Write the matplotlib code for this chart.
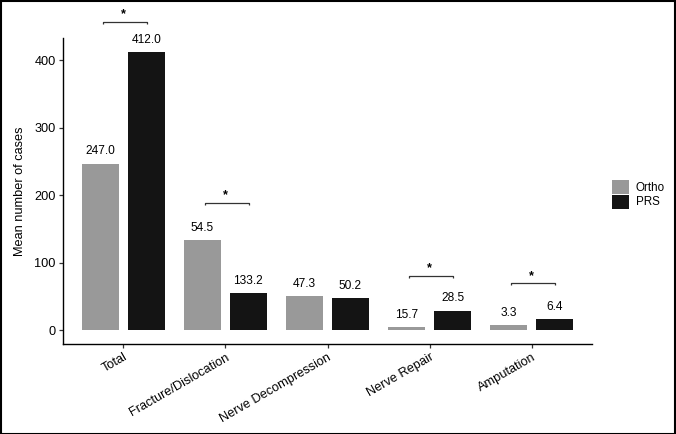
import matplotlib
matplotlib.use("Agg")
import matplotlib.pyplot as plt
import numpy as np
from matplotlib.patches import Rectangle

plt.rcParams['font.family'] = ['Liberation Sans', 'DejaVu Sans']

categories = ["Total", "Fracture/Dislocation", "Nerve Decompression", "Nerve Repair", "Amputation"]
ortho_heights = [247.0, 134.0, 50.5, 4.5, 7.8]
prs_heights = [412.0, 55.0, 48.0, 29.3, 17.2]
ortho_labels = ["247.0", "54.5", "47.3", "15.7", "3.3"]
prs_labels = ["412.0", "133.2", "50.2", "28.5", "6.4"]
sig_categories = ["Total", "Fracture/Dislocation", "Nerve Repair", "Amputation"]
sig_heights = [457.0, 189.0, 81.0, 70.0]
series_names = ["Ortho", "PRS"]
yticks = [0, 100, 200, 300, 400]

ortho_color = "#999999"
prs_color = "#141414"

fig = plt.figure(figsize=(6.76, 4.34), dpi=100)
ax = fig.add_axes([0.0928, 0.2067, 0.8762 - 0.0928, 0.9124 - 0.2067])

x = np.arange(1, len(categories) + 1)
off = 0.225
w = 0.36
ax.bar(x - off, ortho_heights, width=w, color=ortho_color, label=series_names[0])
ax.bar(x + off, prs_heights, width=w, color=prs_color, label=series_names[1])

for xi, h, t in zip(x - off, ortho_heights, ortho_labels):
    ax.annotate(t, (xi, h), xytext=(0, 4.5), textcoords="offset points",
                ha="center", va="bottom", fontsize=8.6, color="black")
for xi, h, t in zip(x + off, prs_heights, prs_labels):
    ax.annotate(t, (xi, h), xytext=(0, 4.5), textcoords="offset points",
                ha="center", va="bottom", fontsize=8.6, color="black")

for cat, sh in zip(sig_categories, sig_heights):
    xc = categories.index(cat) + 1
    x0, x1 = xc - 0.2, xc + 0.23
    tick = 3.0
    ax.plot([x0, x0, x1, x1], [sh - tick, sh, sh, sh - tick], color="#333333",
            lw=0.9, clip_on=False, solid_capstyle="butt")
    ax.annotate("*", (xc, sh), xytext=(0, 0.8), textcoords="offset points",
                ha="center", va="bottom", fontsize=9, fontweight="bold",
                annotation_clip=False)

ax.set_xlim(0.406, 5.594)
ax.set_ylim(-20.6, 432.8)
ax.set_yticks(yticks)
ax.set_yticklabels([str(v) for v in yticks], fontsize=9.2)
ax.set_xticks(x)
ax.set_xticklabels(categories, rotation=30, ha="right", rotation_mode="anchor", fontsize=9.2)
ax.set_ylabel("Mean number of cases", fontsize=9.2, labelpad=6)
ax.spines["top"].set_visible(False)
ax.spines["right"].set_visible(False)
for s in ["left", "bottom"]:
    ax.spines[s].set_linewidth(1.0)
ax.tick_params(axis="both", length=3, width=0.9, color="#333333", pad=2)

leg = ax.legend(loc="center left", bbox_to_anchor=(1.02, 0.5), frameon=False,
                fontsize=8.4, handlelength=1.45, handleheight=1.5, handletextpad=0.6,
                labelspacing=0.0, borderaxespad=0, borderpad=0)
for p in leg.get_patches():
    p.set_edgecolor("none")
leg.set_bbox_to_anchor((612 / 676, 1 - 194.5 / 434), transform=fig.transFigure)

fig.patches.append(Rectangle((0.001, 0.001), 0.997, 0.996, transform=fig.transFigure,
                             fill=False, edgecolor="black", lw=1.5))

fig.savefig("out.png", dpi=100)
